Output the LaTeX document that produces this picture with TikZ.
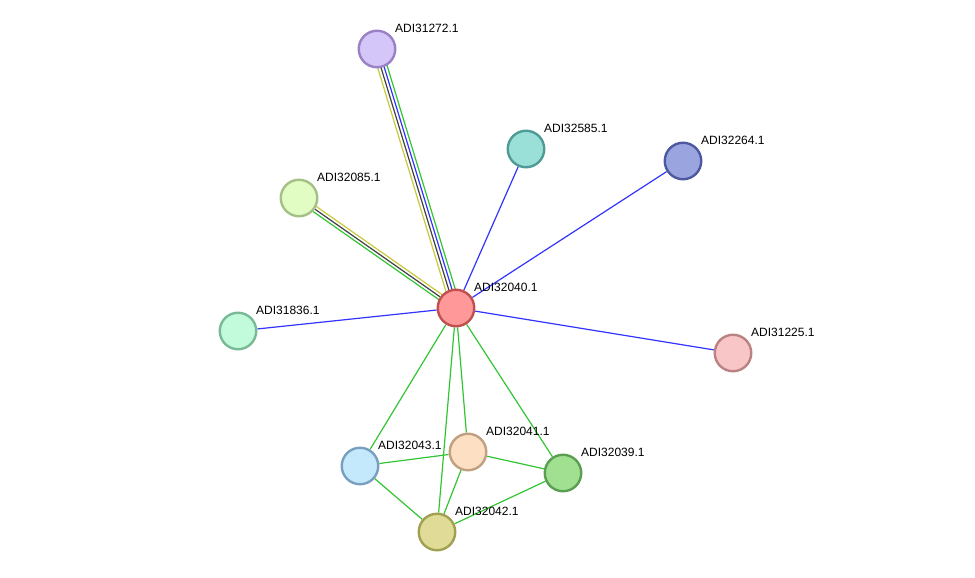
\documentclass[tikz,border=0pt]{standalone}
\usepackage{fontspec}
\setmainfont{Liberation Sans}
\usetikzlibrary{calc,backgrounds}
\definecolor{eg}{HTML}{33C433}
\definecolor{eb}{HTML}{3333FF}
\definecolor{ey}{HTML}{C8C83C}
\definecolor{ek}{HTML}{404040}
\tikzset{
  prot/.style={circle,draw=b#1,fill=c#1,line width=2.4pt,minimum size=36.5pt,inner sep=0pt},
  lab/.style={anchor=west,inner sep=0pt,font=\fontsize{12}{13}\selectfont},
  edge/.style={line width=1.2pt},
}
\begin{document}
\begin{tikzpicture}[x=1pt,y=-1pt]
\useasboundingbox (0,0) rectangle (975,578);
\definecolor{c31272}{HTML}{D5C6FA}\definecolor{b31272}{HTML}{9A80C4}
\definecolor{c32585}{HTML}{9BE0D8}\definecolor{b32585}{HTML}{4E9A94}
\definecolor{c32264}{HTML}{9AA5E0}\definecolor{b32264}{HTML}{4E58A0}
\definecolor{c32085}{HTML}{E2FDC4}\definecolor{b32085}{HTML}{A4C086}
\definecolor{c32040}{HTML}{FF9898}\definecolor{b32040}{HTML}{C05050}
\definecolor{c31836}{HTML}{C2FADC}\definecolor{b31836}{HTML}{78BA96}
\definecolor{c31225}{HTML}{F8C6C6}\definecolor{b31225}{HTML}{BA8282}
\definecolor{c32043}{HTML}{C4E8FC}\definecolor{b32043}{HTML}{78A0BE}
\definecolor{c32041}{HTML}{FDE0C4}\definecolor{b32041}{HTML}{C0A080}
\definecolor{c32039}{HTML}{A0E090}\definecolor{b32039}{HTML}{5A9E52}
\definecolor{c32042}{HTML}{E0DC98}\definecolor{b32042}{HTML}{A0A050}
\node[prot=31272] (n31272) at (377,49) {};
\node[prot=32585] (n32585) at (526,149) {};
\node[prot=32264] (n32264) at (683,161) {};
\node[prot=32085] (n32085) at (299,198) {};
\node[prot=32040] (n32040) at (456,308) {};
\node[prot=31836] (n31836) at (238,331) {};
\node[prot=31225] (n31225) at (733,353) {};
\node[prot=32043] (n32043) at (360,466) {};
\node[prot=32041] (n32041) at (468,452) {};
\node[prot=32039] (n32039) at (563,473) {};
\node[prot=32042] (n32042) at (437,532) {};
\foreach \n in {31272,32585,32264,32085,32040,31836,31225,32043,32041,32039,32042}{
  \node[lab] (l\n) at ($(n\n)+(18,-21)$) {ADI\n.1};
}
\begin{scope}[on background layer]
\draw[edge,ey] ($(n32040)!4.8pt!90:(n31272)$) -- ($(n31272)!4.8pt!-90:(n32040)$);
\draw[edge,ek] ($(n32040)!1.6pt!90:(n31272)$) -- ($(n31272)!1.6pt!-90:(n32040)$);
\draw[edge,eb] ($(n32040)!-1.6pt!90:(n31272)$) -- ($(n31272)!-1.6pt!-90:(n32040)$);
\draw[edge,eg] ($(n32040)!-4.8pt!90:(n31272)$) -- ($(n31272)!-4.8pt!-90:(n32040)$);
\draw[edge,ey] ($(n32040)!-3pt!90:(n32085)$) -- ($(n32085)!-3pt!-90:(n32040)$);
\draw[edge,ek] (n32040) -- (n32085);
\draw[edge,eg] ($(n32040)!3pt!90:(n32085)$) -- ($(n32085)!3pt!-90:(n32040)$);
\foreach \m in {32585,32264,31836,31225}{\draw[edge,eb] (n32040) -- (n\m);}
\foreach \m in {32043,32041,32042,32039}{\draw[edge,eg] (n32040) -- (n\m);}
\draw[edge,eg] (n32043) -- (n32041);
\draw[edge,eg] (n32043) -- (n32042);
\draw[edge,eg] (n32041) -- (n32042);
\draw[edge,eg] (n32041) -- (n32039);
\draw[edge,eg] (n32042) -- (n32039);
\end{scope}
\end{tikzpicture}
\end{document}
